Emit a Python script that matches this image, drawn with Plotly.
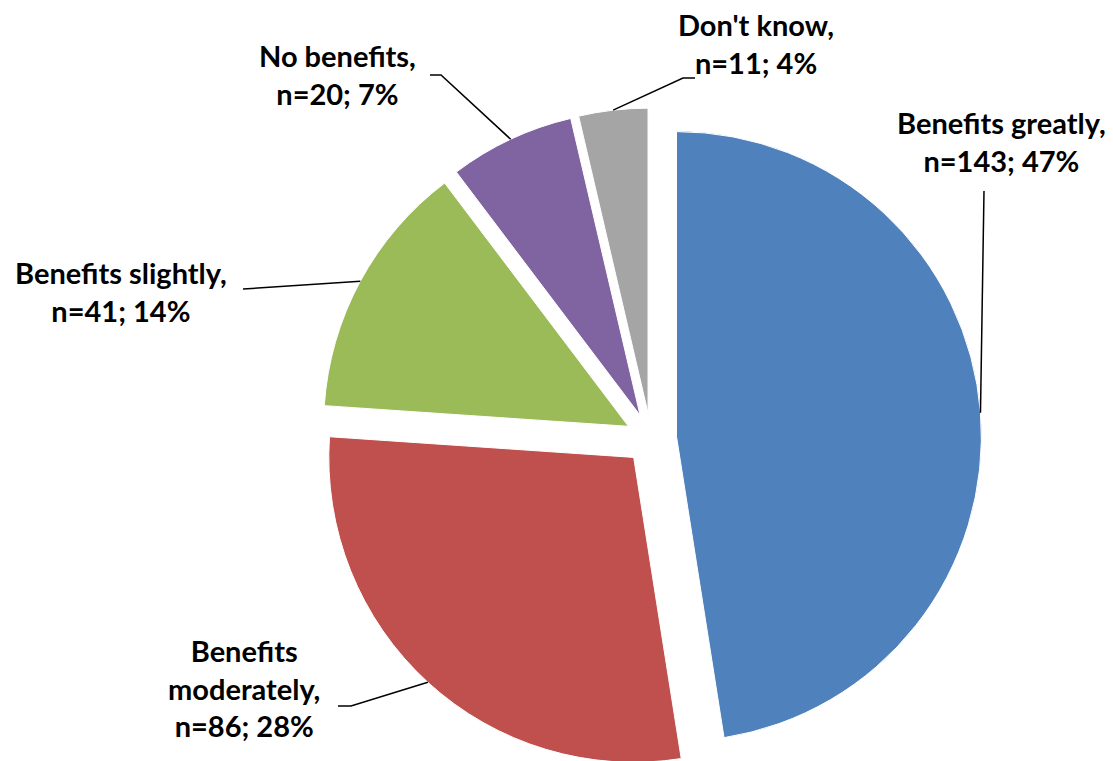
import math
import plotly.graph_objects as go

# ---- data ----
categories = ["Benefits greatly", "Benefits moderately", "Benefits slightly", "No benefits", "Don't know"]
counts = [143, 86, 41, 20, 11]
label_texts = [
    "Benefits greatly,<br>n=143; 47%",
    "Benefits<br>moderately,<br>n=86; 28%",
    "Benefits slightly,<br>n=41; 14%",
    "No benefits,<br>n=20; 7%",
    "Don't know,<br>n=11; 4%",
]
colors = ["#4F81BD", "#C0504D", "#9BBB59", "#8064A2", "#A5A5A5"]

# ---- layout parameters ----
W, H = 1113, 761
M_TOP, M_BOT, M_L, M_R = 100, 0, 0, 0
DOM_X = [0.2, 0.9554]
DOM_Y = [0.0, 1.0]
PULL = 0.084
FONT = "Lato"
FSIZE = 29

# label block centres (pixels) and label-side leader points (pixels)
label_pos = [(993, 134), (236, 680), (113, 283), (329, 67), (748, 36)]
leader_pts = [
    [(976, 183)],
    [(343, 698), (330, 698)],
    [(235, 281)],
    [(433, 67), (422, 67)],
    [(675, 70), (687, 70)],
]

fig = go.Figure(go.Pie(
    labels=categories,
    values=counts,
    sort=False,
    direction="clockwise",
    rotation=0,
    pull=[PULL] * len(counts),
    marker=dict(colors=colors, line=dict(color="white", width=1)),
    textinfo="none",
    hoverinfo="label+value+percent",
    showlegend=False,
    domain=dict(x=DOM_X, y=DOM_Y),
))

# pie geometry as plotly computes it
pw = W - M_L - M_R
ph = H - M_TOP - M_BOT
box_w = pw * (DOM_X[1] - DOM_X[0])
box_h = ph * (DOM_Y[1] - DOM_Y[0])
r = min(box_w, box_h) / 2 / (1 + PULL)
cx = M_L + pw * (DOM_X[0] + DOM_X[1]) / 2
cy = M_TOP + ph * (1 - DOM_Y[0]) - box_h / 2


def to_paper(x, y):
    return (x - M_L) / pw, (H - M_BOT - y) / ph


total = sum(counts)
cum = 0
shapes = []
annotations = []
for i, v in enumerate(counts):
    mid = (cum + v / 2) / total * 2 * math.pi
    cum += v
    dist = r * (1 + PULL)
    sx = cx + dist * math.sin(mid)
    sy = cy - dist * math.cos(mid)
    pts = [(sx, sy)] + leader_pts[i]
    path = "M " + " L ".join("{:.5f},{:.5f}".format(*to_paper(x, y)) for x, y in pts)
    shapes.append(dict(type="path", xref="paper", yref="paper", path=path,
                       line=dict(color="black", width=1.5)))
    px, py = to_paper(*label_pos[i])
    annotations.append(dict(
        text="<b>" + label_texts[i] + "</b>", xref="paper", yref="paper",
        x=px, y=py, xanchor="center", yanchor="middle",
        showarrow=False, align="center",
        font=dict(family=FONT, size=FSIZE, color="black"),
    ))

fig.update_layout(
    width=W, height=H,
    margin=dict(t=M_TOP, b=M_BOT, l=M_L, r=M_R),
    paper_bgcolor="white", plot_bgcolor="white",
    shapes=shapes, annotations=annotations,
)

fig.write_html("out.html")
